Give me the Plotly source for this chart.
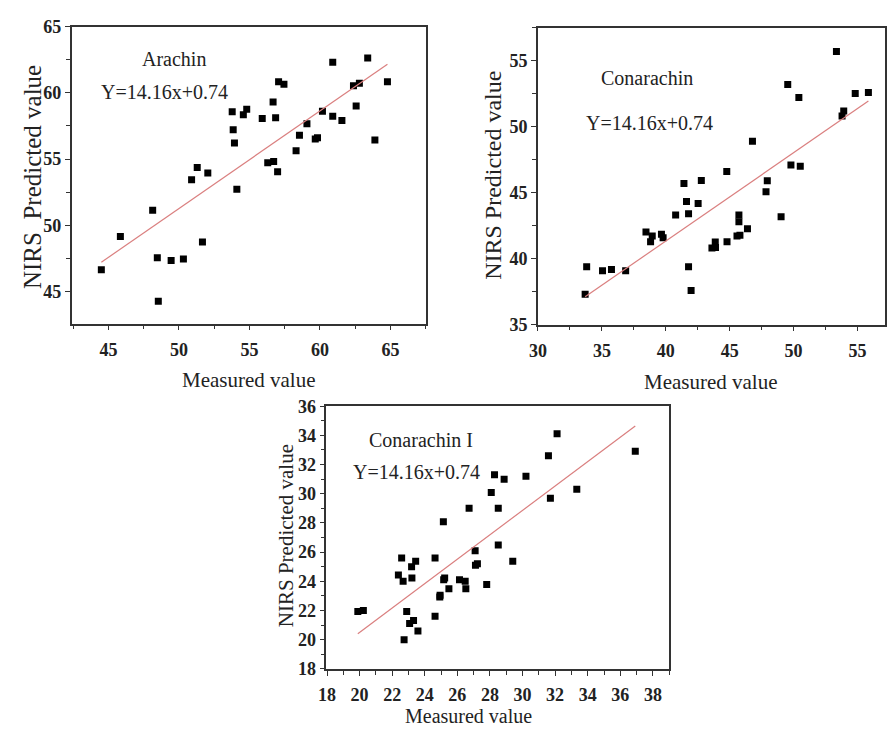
import plotly.graph_objects as go

W, H = 887, 735

# ---------------- data ----------------
arachin_measured = [44.50, 45.85, 48.14, 48.47, 48.54, 49.45, 50.32, 50.90, 51.30, 51.67,
                    52.05, 53.78, 53.85, 53.94, 54.11, 54.57, 54.81, 55.91, 56.30, 56.68,
                    56.72, 56.86, 57.00, 57.07, 57.45, 58.31, 58.55, 59.08, 59.67, 59.83,
                    60.18, 60.91, 60.91, 61.56, 62.38, 62.57, 62.80, 63.39, 63.90, 64.79]
arachin_predicted = [46.66, 49.16, 51.14, 47.57, 44.29, 47.35, 47.47, 53.44, 54.36, 48.74,
                     53.95, 58.57, 57.22, 56.22, 52.73, 58.35, 58.77, 58.06, 54.73, 59.30,
                     54.83, 58.13, 54.05, 60.84, 60.65, 55.64, 56.81, 57.67, 56.52, 56.61,
                     58.62, 62.31, 58.23, 57.91, 60.53, 59.01, 60.72, 62.63, 56.44, 60.84]

conarachin_measured = [33.69, 33.81, 35.05, 35.75, 36.86, 38.45, 38.81, 38.94, 39.66, 39.79,
                       40.77, 41.42, 41.62, 41.78, 41.78, 41.98, 42.53, 42.78, 43.61, 43.87,
                       43.89, 44.77, 44.79, 45.57, 45.72, 45.72, 45.80, 46.39, 46.78, 47.84,
                       47.94, 49.02, 49.54, 49.79, 50.41, 50.52, 53.35, 53.79, 53.92, 54.82,
                       55.85]
conarachin_predicted = [37.29, 39.38, 39.08, 39.18, 39.08, 42.01, 41.27, 41.72, 41.84, 41.57,
                        43.31, 45.70, 44.32, 43.39, 39.38, 37.58, 44.18, 45.92, 40.81, 41.25,
                        40.83, 46.61, 41.27, 41.72, 43.31, 42.80, 41.77, 42.26, 48.90, 45.06,
                        45.90, 43.17, 53.20, 47.10, 52.22, 47.00, 55.71, 50.82, 51.19, 52.52,
                        52.59]

conarachin1_measured = [19.89, 20.23, 22.38, 22.58, 22.67, 22.73, 22.89, 23.07, 23.19, 23.21,
                        23.31, 23.44, 23.58, 24.63, 24.63, 24.92, 24.94, 25.14, 25.16, 25.22,
                        25.48, 26.13, 26.48, 26.52, 26.72, 27.09, 27.11, 27.23, 27.80, 28.08,
                        28.28, 28.51, 28.51, 28.87, 29.40, 30.21, 31.59, 31.71, 32.12, 33.33,
                        36.92]
conarachin1_predicted = [21.93, 22.00, 24.44, 25.60, 24.00, 20.00, 21.93, 21.11, 25.00, 24.22,
                         21.31, 25.38, 20.60, 21.60, 25.60, 22.93, 23.04, 28.09, 24.11, 24.22,
                         23.49, 24.11, 24.00, 23.49, 29.00, 26.09, 25.11, 25.20, 23.78, 30.09,
                         31.31, 29.00, 26.49, 31.00, 25.38, 31.20, 32.60, 29.69, 34.11, 30.31,
                         32.91]

panel_names = ["Arachin", "Conarachin", "Conarachin I"]
equation_label = "Y=14.16x+0.74"
fit_slope = [0.736, 0.670, 0.836]
fit_intercept = [14.47, 14.53, 3.78]
x_tick_step = [5, 5, 2]
y_tick_step = [5, 5, 2]

measured = [arachin_measured, conarachin_measured, conarachin1_measured]
predicted = [arachin_predicted, conarachin_predicted, conarachin1_predicted]

# ---------------- layout helpers ----------------
def px(x):
    return x / W

def py(y):
    return 1 - y / H

# frames in pixels: left, right, top, bottom
frames = [(63.3, 421.7, 17.0, 322.3), (535.0, 886.0, 18.3, 323.3), (321.0, 667.7, 407.3, 677.3)]
x_ranges = [[42.39, 67.52], [30.0, 57.15], [17.96, 39.0]]
y_ranges = [[42.6, 65.0], [35.0, 57.5], [18.0, 36.0]]

SERIF = "Liberation Serif"
TXT = "#222222"
LINE_RED = "#da7f7f"

fig = go.Figure()
layout = dict(width=W, height=H, margin=dict(l=0, r=0, t=0, b=0),
              paper_bgcolor="white", plot_bgcolor="white", showlegend=False)

TICKFONT = dict(family=SERIF, size=18, color=TXT, weight=700)

for i in range(3):
    n = i + 1
    xs = measured[i]
    ys = predicted[i]
    xa = "x" if n == 1 else f"x{n}"
    ya = "y" if n == 1 else f"y{n}"
    fig.add_trace(go.Scatter(x=xs, y=ys, mode="markers", xaxis=xa, yaxis=ya,
                             marker=dict(symbol="square", size=7, color="black",
                                         line=dict(width=0))))
    x0, x1 = min(xs), max(xs)
    fig.add_trace(go.Scatter(x=[x0, x1],
                             y=[fit_intercept[i] + fit_slope[i] * x0,
                                fit_intercept[i] + fit_slope[i] * x1],
                             mode="lines", xaxis=xa, yaxis=ya,
                             line=dict(color=LINE_RED, width=1.2)))
    l, r, t, b = frames[i]
    xd = [px(l), px(r)]
    yd = [py(b), py(t)]
    common = dict(showgrid=False, zeroline=False)
    layout[f"xaxis{'' if n == 1 else n}"] = dict(
        domain=xd, range=x_ranges[i], anchor=ya, dtick=x_tick_step[i], tick0=0,
        ticks="outside", ticklen=5, tickwidth=1.3, tickcolor="#333",
        showline=True, mirror=True, linecolor="#333", linewidth=1.5,
        tickfont=TICKFONT, ticklabelstandoff=4,
        minor=dict(dtick=x_tick_step[i] / 2, tick0=0, ticks="outside", ticklen=4,
                   tickwidth=1.2, tickcolor="#333"),
        **common)
    layout[f"yaxis{'' if n == 1 else n}"] = dict(
        domain=yd, range=y_ranges[i], anchor=xa, dtick=y_tick_step[i], tick0=0,
        ticks="outside", ticklen=5, tickwidth=1.3, tickcolor="#333",
        showline=True, mirror=True, linecolor="#333", linewidth=1.5,
        tickfont=TICKFONT, ticklabelstandoff=0,
        minor=dict(dtick=y_tick_step[i] / 2, tick0=0, ticks="outside", ticklen=4,
                   tickwidth=1.2, tickcolor="#333"),
        **common)
    # overlay axes for inside ticks on top / right
    layout[f"xaxis{n + 3}"] = dict(
        domain=xd, range=x_ranges[i], anchor=ya, overlaying=xa, side="top",
        dtick=x_tick_step[i], tick0=0, ticks="inside", ticklen=5, tickwidth=1.3,
        tickcolor="#333", showticklabels=False, showline=False,
        minor=dict(dtick=x_tick_step[i] / 2, tick0=0, ticks="inside", ticklen=4,
                   tickwidth=1.2, tickcolor="#333"),
        **common)
    layout[f"yaxis{n + 3}"] = dict(
        domain=yd, range=y_ranges[i], anchor=xa, overlaying=ya, side="right",
        dtick=y_tick_step[i], tick0=0, ticks="inside", ticklen=5, tickwidth=1.3,
        tickcolor="#333", showticklabels=False, showline=False,
        minor=dict(dtick=y_tick_step[i] / 2, tick0=0, ticks="inside", ticklen=4,
                   tickwidth=1.2, tickcolor="#333"),
        **common)

fig.update_layout(**layout)

# text annotations (pixel positions)
ann = []
name_pos = [(167, 50), (645, 70), (417, 442)]
eq_pos = [(157, 84), (648, 116), (412, 475)]
xtitle_pos = [(243, 380), (710, 382), (465, 726)]
ytitle_pos = [(24, 172), (490, 170), (280, 540)]
ytitle_text = ["NIRS  Predicted value", "NIRS Predicted value", "NIRS Predicted value"]
ytitle_size = [25, 24, 21]
xtitle_size = [21, 21, 20]
for i in range(3):
    ann.append(dict(x=px(name_pos[i][0]), y=py(name_pos[i][1]), xref="paper", yref="paper",
                    text=panel_names[i], showarrow=False, xanchor="center", yanchor="middle",
                    font=dict(family=SERIF, size=20, color=TXT)))
    ann.append(dict(x=px(eq_pos[i][0]), y=py(eq_pos[i][1]), xref="paper", yref="paper",
                    text=equation_label, showarrow=False, xanchor="center", yanchor="middle",
                    font=dict(family=SERIF, size=20, color=TXT)))
    ann.append(dict(x=px(xtitle_pos[i][0]), y=py(xtitle_pos[i][1]), xref="paper", yref="paper",
                    text="Measured value", showarrow=False, xanchor="center",
                    yanchor="middle", borderpad=0,
                    font=dict(family=SERIF, size=xtitle_size[i], color=TXT)))
    ann.append(dict(x=px(ytitle_pos[i][0]), y=py(ytitle_pos[i][1]), xref="paper", yref="paper",
                    text=ytitle_text[i].replace("  ", "&nbsp; "), showarrow=False,
                    xanchor="center", yanchor="middle", textangle=-90,
                    font=dict(family=SERIF, size=ytitle_size[i], color=TXT)))
fig.update_layout(annotations=ann)

fig.write_html("out.html")
